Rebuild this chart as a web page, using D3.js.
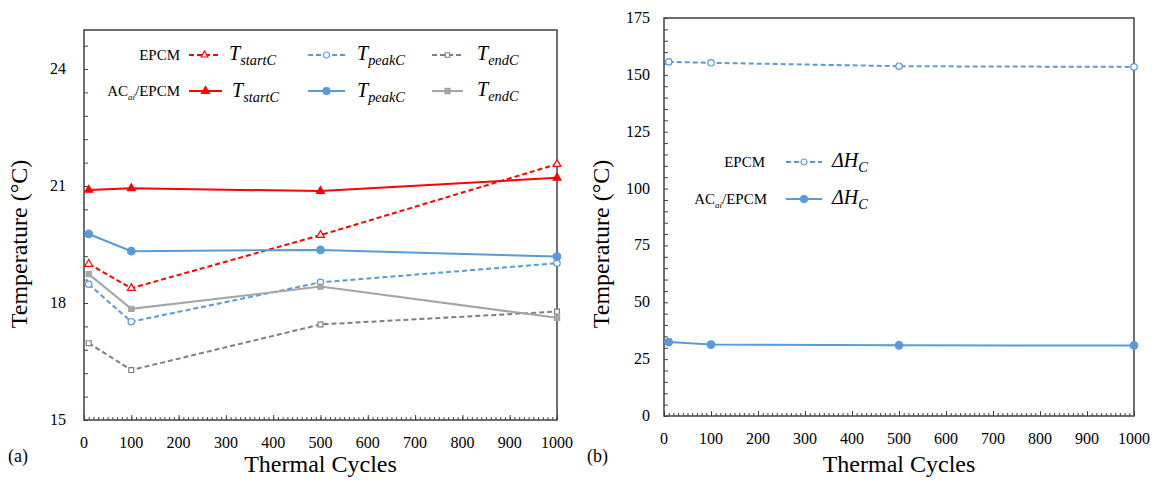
<!DOCTYPE html>
<html>
<head>
<meta charset="utf-8">
<script src="https://cdn.jsdelivr.net/npm/d3@7"></script>
<style>
  body { margin: 0; background: #fff; }
</style>
</head>
<body>
<script>
let width = 1162;
let height = 480;
let svg = d3.select("body").append("svg")
            .attr("width", width)
            .attr("height", height);

// data
let cycles = [10, 100, 500, 1000];
let epcmStart = [19.0, 18.38, 19.74, 21.56];
let epcmPeak = [18.48, 17.52, 18.53, 19.02];
let epcmEnd = [16.97, 16.28, 17.45, 17.78];
let acStart = [20.9, 20.94, 20.87, 21.21];
let acPeak = [19.77, 19.33, 19.36, 19.19];
let acEnd = [18.74, 17.85, 18.42, 17.62];
let epcmDH = [155.7, 155.3, 153.8, 153.5];
let acDH = [32.5, 31.4, 31.1, 31.0];

let xTicks = [0, 100, 200, 300, 400, 500, 600, 700, 800, 900, 1000];
let leftTicks = [15, 18, 21, 24];
let rightTicks = [0, 25, 50, 75, 100, 125, 150, 175];

let red = "#ff0000", blue = "#5b9bd5", gray = "#a5a5a5", grayDash = "#7f7f7f";
let serif = "'Liberation Serif'";

function txt(g) {
  return g.append("text").style("font-family", serif).attr("fill", "#000");
}

function drawPanel(o) {
  let x = d3.scaleLinear().domain([0, 1000]).range([o.left, o.right]);
  let y = d3.scaleLinear().domain(o.ydomain).range([o.bottom, o.top]);
  let g = svg.append("g");

  // minor ticks
  g.append("g").attr("transform", "translate(0," + o.bottom + ")")
   .call(d3.axisTop(x).tickValues(d3.range(0, 1001, 10)).tickSize(3).tickFormat(""))
   .call(a => a.select(".domain").remove())
   .selectAll("line").attr("stroke", "#404040");
  g.append("g").attr("transform", "translate(0," + o.bottom + ")")
   .call(d3.axisTop(x).tickValues(xTicks).tickSize(5).tickFormat(""))
   .call(a => a.select(".domain").remove())
   .selectAll("line").attr("stroke", "#404040");
  g.append("g").attr("transform", "translate(" + o.left + ",0)")
   .call(d3.axisRight(y).tickValues(o.yminor).tickSize(4).tickFormat(""))
   .call(a => a.select(".domain").remove())
   .selectAll("line").attr("stroke", "#404040");

  // tick labels
  g.selectAll(".xl").data(xTicks).join("text")
   .style("font-family", serif)
   .attr("x", d => x(d)).attr("y", o.bottom + 28)
   .attr("text-anchor", "middle").attr("font-size", 16).text(d => d);
  g.selectAll(".yl").data(o.yticks).join("text")
   .style("font-family", serif)
   .attr("x", o.left - o.labelGap).attr("y", d => y(d) + 5)
   .attr("text-anchor", "end").attr("font-size", 16).text(d => d);

  // frame
  g.append("rect").attr("x", o.left).attr("y", o.top)
   .attr("width", o.right - o.left).attr("height", o.bottom - o.top)
   .attr("fill", "none").attr("stroke", "#404040").attr("stroke-width", 1.5);

  // titles
  txt(g).attr("x", (o.left + o.right) / 2).attr("y", 472)
   .attr("text-anchor", "middle").attr("font-size", 24).text("Thermal Cycles");
  txt(g).attr("transform", "translate(" + o.ytitleX + ",244) rotate(-90)")
   .attr("text-anchor", "middle").attr("font-size", 24).text("Temperature (°C)");
  txt(g).attr("x", o.tagX).attr("y", 462).attr("font-size", 18).text(o.tag);

  return { x: x, y: y, g: g };
}

function marker(sel, type, color, filled, size) {
  if (type === "circle") {
    sel.append("circle").attr("r", size)
       .attr("fill", filled ? color : "#fff").attr("stroke", color).attr("stroke-width", 1.2);
  } else {
    let sym = type === "triangle" ? d3.symbolTriangle : d3.symbolSquare;
    sel.append("path").attr("d", d3.symbol().type(sym).size(size * size * 3))
       .attr("fill", filled ? color : "#fff").attr("stroke", color).attr("stroke-width", 1.2);
  }
}

function series(p, values, color, dashed, type, filled, size) {
  let data = cycles.map((c, i) => [c, values[i]]);
  let line = d3.line().x(d => p.x(d[0])).y(d => p.y(d[1]));
  p.g.append("path").datum(data).attr("d", line)
     .attr("fill", "none").attr("stroke", color).attr("stroke-width", 2)
     .attr("stroke-dasharray", dashed ? "5,3" : null);
  data.forEach(d => {
    let m = p.g.append("g").attr("transform", "translate(" + p.x(d[0]) + "," + p.y(d[1]) + ")");
    marker(m, type, color, filled, size);
  });
}

function legendItem(g, x1, x2, y, color, dashed, type, filled, size) {
  g.append("line").attr("x1", x1).attr("x2", x2).attr("y1", y).attr("y2", y)
   .attr("stroke", color).attr("stroke-width", 2).attr("stroke-dasharray", dashed ? "5,3" : null);
  let m = g.append("g").attr("transform", "translate(" + (x1 + x2) / 2 + "," + y + ")");
  marker(m, type, color, filled, size);
}

function subLabel(g, x, y, main, sub, size) {
  let t = txt(g).attr("x", x).attr("y", y).attr("font-style", "italic").attr("font-size", size);
  t.append("tspan").text(main);
  t.append("tspan").attr("dy", 5).attr("font-size", size * 0.72).text(sub);
}

function acLabel(g, x, y) {
  let t = txt(g).attr("x", x).attr("y", y).attr("text-anchor", "end").attr("font-size", 15);
  t.append("tspan").text("AC");
  t.append("tspan").attr("dy", 4).attr("font-size", 9).attr("font-style", "italic").text("ai");
  t.append("tspan").attr("dy", -4).text("/EPCM");
}

// panel (a)
let pa = drawPanel({
  left: 84, right: 557, top: 30, bottom: 420,
  ydomain: [15, 25], yticks: leftTicks,
  yminor: d3.range(0, 17).map(i => 15 + i * 0.6),
  labelGap: 18, ytitleX: 27, tagX: 8, tag: "(a)"
});
series(pa, epcmStart, red, true, "triangle", false, 3);
series(pa, epcmPeak, blue, true, "circle", false, 3.2);
series(pa, epcmEnd, grayDash, true, "square", false, 2.8);
series(pa, acStart, red, false, "triangle", true, 3);
series(pa, acPeak, blue, false, "circle", true, 3.8);
series(pa, acEnd, gray, false, "square", true, 3);

let la = pa.g.append("g");
txt(la).attr("x", 180).attr("y", 60).attr("text-anchor", "end").attr("font-size", 15).text("EPCM");
acLabel(la, 180, 96);
legendItem(la, 189, 220, 55, red, true, "triangle", false, 2.6);
legendItem(la, 308, 345, 55, blue, true, "circle", false, 3);
legendItem(la, 432, 463, 55, grayDash, true, "square", false, 2.6);
legendItem(la, 189, 222, 91, red, false, "triangle", true, 3);
legendItem(la, 308, 345, 91, blue, false, "circle", true, 3.5);
legendItem(la, 432, 463, 91, gray, false, "square", true, 3);
subLabel(la, 229, 60, "T", "startC", 20);
subLabel(la, 357, 60, "T", "peakC", 20);
subLabel(la, 477, 60, "T", "endC", 20);
subLabel(la, 232, 97, "T", "startC", 20);
subLabel(la, 357, 97, "T", "peakC", 20);
subLabel(la, 477, 96, "T", "endC", 20);

// panel (b)
let pb = drawPanel({
  left: 664, right: 1134, top: 18, bottom: 416,
  ydomain: [0, 175], yticks: rightTicks,
  yminor: d3.range(0, 176, 5),
  labelGap: 14, ytitleX: 609, tagX: 587, tag: "(b)"
});
series(pb, epcmDH, blue, true, "circle", false, 3.2);
series(pb, acDH, blue, false, "circle", true, 3.8);

let lb = pb.g.append("g");
txt(lb).attr("x", 765).attr("y", 167).attr("text-anchor", "end").attr("font-size", 15).text("EPCM");
acLabel(lb, 767, 204);
legendItem(lb, 786, 822, 162, blue, true, "circle", false, 3);
legendItem(lb, 786, 822, 199, blue, false, "circle", true, 3.5);
subLabel(lb, 832, 167, "ΔH", "C", 20);
subLabel(lb, 832, 204, "ΔH", "C", 20);
</script>
</body>
</html>
